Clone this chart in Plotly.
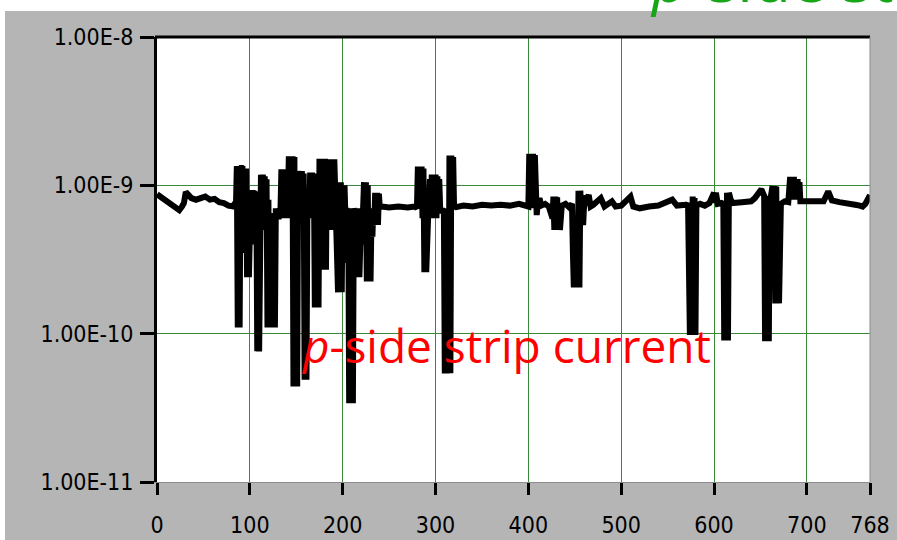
import plotly.graph_objects as go

# ---- data: (strip number, current in A) ----
lead_in = [(0, 8.7e-10), (5, 8.3e-10), (10, 7.9e-10), (15, 7.6e-10), (20, 7.1e-10),
           (24, 6.8e-10), (27, 7.2e-10), (29, 7.6e-10), (31, 9.0e-10), (34, 8.6e-10),
           (37, 8.2e-10), (42, 8.0e-10), (47, 8.3e-10), (52, 8.4e-10), (57, 8.0e-10),
           (62, 8.1e-10), (67, 7.7e-10), (72, 7.6e-10), (77, 7.3e-10), (82, 7.2e-10),
           (84, 7.6e-10), (85, 7.0e-10)]

bad_region_1 = [
    (86, 1.35e-9), (87, 1.1e-10), (88, 1.35e-9), (89, 1.1e-10), (90, 1.35e-9),
    (91, 1.3e-9), (92, 1.35e-9), (93, 6e-10), (94, 1.3e-9), (95, 3.5e-10),
    (96, 1.3e-9), (97, 2.4e-10), (98, 4e-10), (99, 2.4e-10), (100, 7e-10),
    (101, 9.3e-10), (102, 6e-10), (103, 9.3e-10), (104, 5e-10), (105, 9.2e-10),
    (106, 4e-10), (107, 9e-10), (108, 7.6e-11), (109, 3e-10), (110, 7.6e-11),
    (111, 5e-10), (112, 1.18e-9), (113, 6e-10), (114, 1.18e-9), (115, 5e-10),
    (116, 1.15e-9), (117, 6e-10), (118, 1.1e-9), (119, 1.1e-10), (120, 8e-10),
    (121, 1.1e-10), (122, 6e-10), (123, 1.2e-10), (124, 6.5e-10), (125, 1.1e-10),
    (126, 6e-10), (127, 1.1e-10), (128, 7e-10), (129, 6e-10), (130, 6.8e-10),
    (131, 5.9e-10), (132, 7e-10), (133, 6.8e-10), (134, 1.28e-9), (135, 7e-10),
    (136, 1.28e-9), (137, 6e-10), (138, 1.28e-9), (139, 8e-10), (140, 1.28e-9),
    (141, 7e-10), (142, 1.57e-9), (143, 6e-10), (144, 1.57e-9), (145, 6e-10),
    (146, 1.57e-9), (147, 4.4e-11), (148, 1.55e-9), (149, 4.4e-11), (150, 1.25e-9),
    (151, 4.4e-11), (152, 1.25e-9), (153, 8e-10), (154, 1.25e-9), (155, 7e-10),
    (156, 1.25e-9), (157, 7e-10), (158, 1.2e-9), (159, 4.9e-11), (160, 6e-10),
    (161, 4.9e-11), (162, 7e-10), (163, 6.5e-10), (164, 7e-10), (165, 1.22e-9),
    (166, 6e-10), (167, 1.22e-9), (168, 6e-10), (169, 1.2e-9), (170, 1.5e-10),
    (171, 1.2e-9), (172, 1.5e-10), (173, 6e-10), (174, 1.5e-10), (175, 1.51e-9),
    (176, 6e-10), (177, 1.51e-9), (178, 2.7e-10), (179, 1.51e-9), (180, 2.7e-10),
    (181, 1.51e-9), (182, 2.7e-10), (183, 1.5e-9), (184, 6e-10), (185, 1.5e-9),
    (186, 6e-10), (187, 1.5e-9), (188, 5e-10), (189, 1.5e-9), (190, 6e-10),
    (191, 1.5e-9), (192, 7e-10), (193, 6e-10), (194, 4e-10), (195, 1.9e-10),
    (196, 1.05e-9), (197, 1.9e-10), (198, 1.05e-9), (199, 1.9e-10), (200, 1.0e-9),
    (201, 3e-10), (202, 1.0e-9), (203, 6e-10), (204, 7e-10), (205, 6.5e-10),
    (206, 7e-10), (207, 3.4e-11), (208, 7e-10), (209, 3.4e-11), (210, 6e-10),
    (211, 3.4e-11), (212, 7e-10), (213, 6.5e-10), (214, 2.4e-10), (215, 7e-10),
    (216, 2.4e-10), (217, 6e-10), (218, 2.4e-10), (219, 6.5e-10), (220, 7e-10),
    (221, 6.5e-10), (222, 7e-10), (223, 1.05e-9), (224, 4e-10), (225, 1.05e-9),
    (226, 2.25e-10), (227, 1.0e-9), (228, 2.25e-10), (229, 5e-10), (230, 2.25e-10),
    (231, 6e-10), (232, 4.5e-10), (233, 7e-10), (234, 5.4e-10), (235, 8.9e-10),
    (236, 5.4e-10), (237, 8.9e-10), (238, 5.4e-10), (239, 8.8e-10), (240, 7e-10),
    (241, 7.2e-10)]

quiet_1 = [(242, 7.2e-10), (250, 7.1e-10), (260, 7.2e-10), (270, 7.1e-10), (278, 7.2e-10)]

bad_region_2 = [
    (280, 7.0e-10), (281, 1.34e-9), (282, 7e-10), (283, 1.34e-9), (284, 7e-10),
    (285, 1.34e-9), (286, 6e-10), (287, 1.3e-9), (288, 2.6e-10), (289, 5.7e-10),
    (290, 2.6e-10), (291, 5.7e-10), (292, 6e-10), (293, 7e-10), (294, 1.1e-9),
    (295, 7e-10), (296, 1.18e-9), (297, 6e-10), (298, 1.18e-9), (299, 7e-10),
    (300, 1.18e-9), (301, 6e-10), (302, 1.15e-9), (303, 7e-10), (304, 1.1e-9),
    (305, 7e-10), (306, 6.5e-10), (307, 7e-10), (308, 6.5e-10), (309, 7e-10),
    (310, 5.4e-11), (311, 6e-10), (312, 5.4e-11), (313, 6e-10), (314, 5.4e-11),
    (315, 1.59e-9), (316, 5.4e-11), (317, 1.59e-9), (318, 7e-10), (319, 1.55e-9),
    (320, 7e-10), (321, 7.1e-10)]

quiet_2 = [(330, 7.3e-10), (340, 7.2e-10), (350, 7.4e-10), (360, 7.3e-10), (370, 7.4e-10),
           (380, 7.3e-10), (390, 7.5e-10), (398, 7.3e-10)]

bad_region_3 = [
    (400, 7.2e-10), (401, 1.63e-9), (402, 7e-10), (403, 1.63e-9), (404, 7e-10),
    (405, 1.63e-9), (406, 7.5e-10), (407, 1.6e-9), (408, 6.3e-10), (409, 6.3e-10),
    (410, 7.5e-10), (412, 8.2e-10), (414, 7.3e-10), (418, 7.5e-10), (422, 7.2e-10),
    (426, 6e-10), (427, 8.4e-10), (428, 5.0e-10), (429, 8.4e-10), (430, 5.0e-10),
    (431, 8.3e-10), (432, 5.0e-10), (433, 7e-10), (434, 5.0e-10), (435, 6e-10),
    (436, 7.3e-10), (440, 7.5e-10), (444, 7.1e-10), (447, 7.5e-10), (448, 3.5e-10),
    (449, 2.05e-10), (450, 6e-10), (451, 2.05e-10), (452, 6e-10), (453, 2.05e-10),
    (454, 9.2e-10), (455, 2.05e-10), (456, 9.2e-10), (457, 5.4e-10), (458, 8.6e-10),
    (459, 5.4e-10), (460, 7.3e-10)]

quiet_3 = [(465, 8.6e-10), (467, 7.2e-10), (470, 7.4e-10), (478, 8.2e-10), (482, 7.2e-10),
           (490, 7.8e-10), (494, 7.2e-10), (500, 7.3e-10), (510, 8.4e-10), (513, 7.2e-10),
           (520, 7.0e-10), (530, 7.2e-10), (540, 7.3e-10), (555, 8.0e-10), (560, 7.3e-10),
           (570, 7.4e-10)]

bad_region_4 = [
    (571, 7.4e-10), (572, 7.6e-10), (573, 3.7e-10), (574, 9.8e-11), (575, 3.7e-10),
    (576, 9.8e-11), (577, 8.4e-10), (578, 9.8e-11), (579, 8.2e-10), (580, 9.8e-11),
    (581, 7.3e-10), (585, 7.5e-10), (590, 7.3e-10), (595, 7.6e-10), (600, 8.9e-10),
    (601, 7.6e-10), (602, 8.9e-10), (604, 7.5e-10), (608, 7.6e-10), (610, 7.5e-10),
    (611, 9e-11), (612, 6e-10), (613, 9e-11), (614, 8.9e-10), (615, 9e-11),
    (616, 8.9e-10), (618, 8.0e-10), (620, 7.6e-10), (630, 7.7e-10), (640, 7.8e-10)]

bad_region_5 = [
    (644, 8.2e-10), (648, 9.0e-10), (651, 9.4e-10), (654, 8.5e-10), (655, 8.9e-11),
    (656, 8.5e-10), (657, 8.9e-11), (658, 8.3e-10), (659, 8.9e-11), (660, 7.5e-10),
    (661, 8.0e-10), (663, 9.9e-10), (664, 6e-10), (665, 9.9e-10), (666, 1.6e-10),
    (667, 9.8e-10), (668, 1.6e-10), (669, 4.8e-10), (670, 1.6e-10), (671, 4.8e-10),
    (672, 7.5e-10), (676, 7.8e-10), (680, 7.7e-10), (682, 1.14e-9), (683, 8e-10),
    (684, 1.14e-9), (685, 8e-10), (686, 1.14e-9), (687, 8e-10), (688, 1.1e-9),
    (689, 8e-10), (690, 1.1e-9), (691, 8e-10), (692, 1.05e-9), (693, 7.8e-10)]

tail = [(700, 7.8e-10), (710, 7.7e-10), (718, 7.8e-10), (723, 9.1e-10), (727, 7.9e-10),
        (735, 7.7e-10), (745, 7.6e-10), (752, 7.4e-10), (757, 7.3e-10), (760, 7.2e-10),
        (763, 7.5e-10), (766, 8.0e-10), (768, 8.6e-10)]

x_ticks = [0, 100, 200, 300, 400, 500, 600, 700, 768]
y_ticks = [1e-11, 1e-10, 1e-9, 1e-8]
y_tick_text = ["1.00E-11", "1.00E-10", "1.00E-9", "1.00E-8"]

points = (lead_in + bad_region_1 + quiet_1 + bad_region_2 + quiet_2 + bad_region_3
          + quiet_3 + bad_region_4 + bad_region_5 + tail)
strips = [p[0] for p in points]
currents = [p[1] for p in points]

# ---- figure ----
L, R, T, B = 157, 870, 37, 482
W, H = 897, 540
pw, ph = R - L, B - T


def px(xp):
    return (xp - L) / pw


def py(yp):
    return (B - yp) / ph


fig = go.Figure()
fig.add_trace(go.Scatter(x=strips, y=currents, mode="lines",
                         line=dict(color="black", width=6), hoverinfo="skip"))

tick_font = dict(family="Liberation Sans Narrow, DejaVu Sans Condensed, Liberation Sans, Arial",
                 size=23, color="black")
grid = "#3b8a3b"

fig.update_layout(
    width=W, height=H,
    margin=dict(l=L, r=W - R, t=T, b=H - B, pad=0),
    paper_bgcolor="#b5b5b5", plot_bgcolor="white", showlegend=False,
    xaxis=dict(range=[0, 768], tickvals=x_ticks, ticktext=[str(v) for v in x_ticks],
               showgrid=True, gridcolor=grid, gridwidth=1, zeroline=False,
               ticks="outside", ticklen=12, tickwidth=3, tickcolor="black",
               showline=True, linecolor="#8c8c8c", linewidth=1,
               tickfont=tick_font, ticklabelstandoff=10, automargin=False),
    yaxis=dict(type="log", range=[-11, -8], tickvals=y_ticks, ticktext=y_tick_text,
               showgrid=True, gridcolor=grid, gridwidth=1, zeroline=False,
               ticks="outside", ticklen=14, tickwidth=3, tickcolor="black",
               showline=True, linecolor="black", linewidth=3,
               tickfont=tick_font, ticklabelstandoff=2, automargin=False),
)

# frame: black top edge, grey right edge
fig.add_shape(type="line", xref="paper", yref="paper", x0=px(L - 2), x1=px(R), y0=1, y1=1,
              line=dict(color="black", width=3))
fig.add_shape(type="line", xref="paper", yref="paper", x0=1, x1=1, y0=0, y1=1,
              line=dict(color="#8c8c8c", width=1))
# white page margins around the grey panel
fig.add_shape(type="rect", xref="paper", yref="paper", x0=px(0), x1=px(W), y0=py(11), y1=py(0),
              fillcolor="white", line=dict(width=0), layer="above")
fig.add_shape(type="rect", xref="paper", yref="paper", x0=px(0), x1=px(5), y0=py(H), y1=py(0),
              fillcolor="white", line=dict(width=0), layer="above")

fig.add_annotation(text="<i>p</i>-side strip current", xref="paper", yref="paper",
                   x=px(506), y=py(345), xanchor="center", yanchor="middle", showarrow=False,
                   font=dict(family="Open Sans, Noto Sans", size=46, color="#ff0000"))
fig.add_annotation(text="<i>p</i>-side strip", xref="paper", yref="paper",
                   x=px(648), y=py(22), xanchor="left", yanchor="bottom", showarrow=False,
                   font=dict(family="Open Sans, Noto Sans", size=62, color="#17a617"))

fig.write_html("out.html", config={"displayModeBar": False},
               post_script="document.body.style.margin='0';")
